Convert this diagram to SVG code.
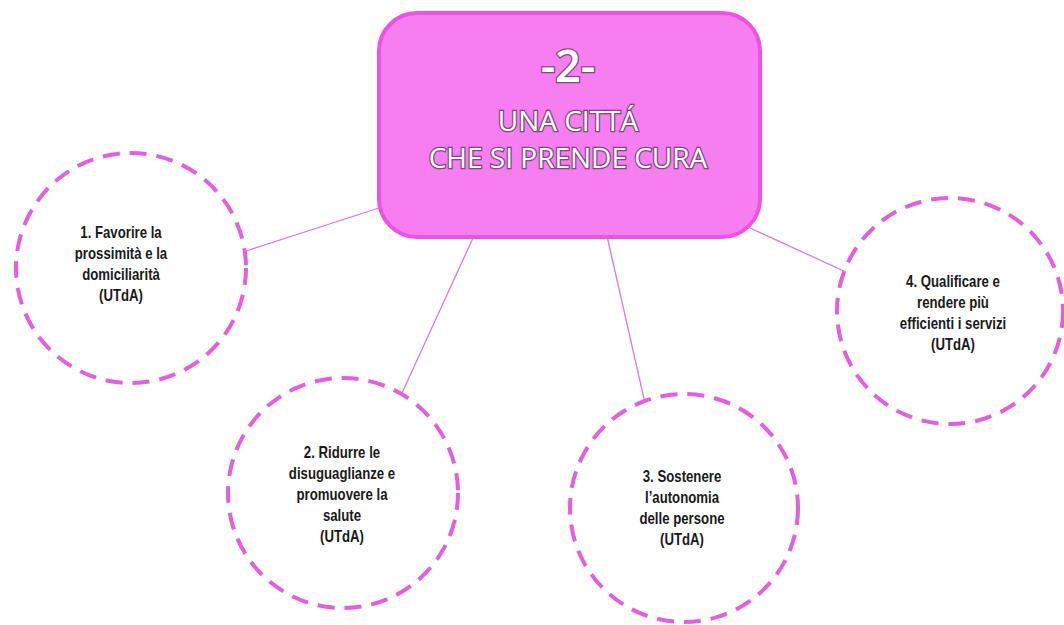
<svg xmlns="http://www.w3.org/2000/svg" width="1064" height="625" viewBox="0 0 1064 625">
<defs>
<style>
.bg{fill:#ffffff}
.circ{fill:none;stroke:#e45ee0;stroke-width:4;stroke-dasharray:17 10}
.conn{stroke:#dd78d8;stroke-width:1.3;fill:none}
.box{fill:#f77ef0;stroke:#ec52e4;stroke-width:4}
.title{font-family:"Open Sans","Liberation Sans",sans-serif;fill:#ffffff;stroke:#7e4a7c;stroke-width:2.6;paint-order:stroke;text-anchor:middle}
.lbl{font-family:"Liberation Sans",Arial,sans-serif;font-weight:bold;font-size:16.5px;fill:#1a1a1a;text-anchor:middle}
</style>
</defs>
<rect class="bg" x="0" y="0" width="1064" height="625"/>
<g id="connectors">
<line class="conn" x1="243" y1="252" x2="379" y2="208"/>
<line class="conn" x1="473" y1="238" x2="402" y2="393"/>
<line class="conn" x1="607" y1="236" x2="645" y2="403"/>
<line class="conn" x1="750" y1="228" x2="846" y2="272"/>
</g>
<g id="center">
<rect class="box" x="379" y="13" width="381" height="224" rx="38" ry="38"/>
<text class="title" x="568" y="82" font-size="45" font-weight="600">-2-</text>
<text class="title" x="568" y="131" font-size="28">UNA CITTÁ</text>
<text class="title" x="568" y="168" font-size="28">CHE SI PRENDE CURA</text>
</g>
<g id="node1">
<circle class="circ" cx="131" cy="268" r="115"/>
<g transform="translate(121,0) scale(0.8,1)">
<text class="lbl" x="0" y="238">1. Favorire la</text>
<text class="lbl" x="0" y="259">prossimità e la</text>
<text class="lbl" x="0" y="280">domiciliarità</text>
<text class="lbl" x="0" y="301">(UTdA)</text>
</g>
</g>
<g id="node2">
<circle class="circ" cx="343" cy="493" r="115"/>
<g transform="translate(342,0) scale(0.8,1)">
<text class="lbl" x="0" y="458">2. Ridurre le</text>
<text class="lbl" x="0" y="479">disuguaglianze e</text>
<text class="lbl" x="0" y="500">promuovere la</text>
<text class="lbl" x="0" y="521">salute</text>
<text class="lbl" x="0" y="542">(UTdA)</text>
</g>
</g>
<g id="node3">
<circle class="circ" cx="684" cy="508" r="114"/>
<g transform="translate(682,0) scale(0.8,1)">
<text class="lbl" x="0" y="482">3. Sostenere</text>
<text class="lbl" x="0" y="503">l’autonomia</text>
<text class="lbl" x="0" y="524">delle persone</text>
<text class="lbl" x="0" y="545">(UTdA)</text>
</g>
</g>
<g id="node4">
<circle class="circ" cx="950" cy="311" r="113"/>
<g transform="translate(953,0) scale(0.8,1)">
<text class="lbl" x="0" y="287">4. Qualificare e</text>
<text class="lbl" x="0" y="308">rendere più</text>
<text class="lbl" x="0" y="329">efficienti i servizi</text>
<text class="lbl" x="0" y="350">(UTdA)</text>
</g>
</g>
</svg>
